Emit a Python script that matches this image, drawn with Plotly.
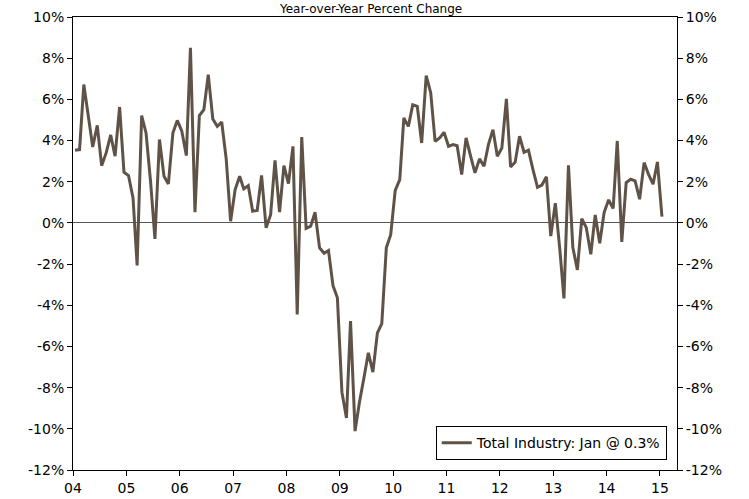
import pandas as pd
import plotly.graph_objects as go

# monthly YoY % change, Jan 2004 .. Jan 2015 (plotted mid-month)
MONTHS = pd.date_range("2004-01-01", periods=133, freq="MS") + pd.Timedelta(days=14)
YOY_PCT = [
    3.53, 3.56, 6.72, 5.1, 3.69, 4.74, 2.78, 3.4, 4.27, 3.24, 5.63, 2.46,
    2.3, 1.21, -2.07, 5.21, 4.37, 2.0, -0.78, 4.05, 2.27, 1.89, 4.37, 4.98,
    4.45, 3.27, 8.5, 0.52, 5.21, 5.5, 7.2, 5.05, 4.69, 4.9, 3.1, 0.08,
    1.62, 2.27, 1.65, 1.81, 0.57, 0.61, 2.31, -0.24, 0.4, 3.04, 0.52, 2.78,
    1.91, 3.72, -4.45, 4.17, -0.27, -0.16, 0.52, -1.21, -1.47, -1.34, -3.05, -3.64,
    -8.22, -9.47, -4.77, -10.11, -8.71, -7.52, -6.31, -7.25, -5.34, -4.89, -1.21, -0.57,
    1.58, 2.1, 5.1, 4.69, 5.74, 5.66, 3.88, 7.15, 6.31, 3.96, 4.13, 4.4,
    3.72, 3.8, 3.75, 2.35, 4.13, 3.24, 2.43, 3.11, 2.75, 3.8, 4.53, 3.24,
    3.64, 6.02, 2.72, 2.95, 4.21, 3.43, 3.53, 2.59, 1.73, 1.84, 2.24, -0.64,
    0.96, -1.3, -3.67, 2.8, -1.2, -2.28, 0.21, -0.23, -1.52, 0.39, -0.99, 0.5,
    1.12, 0.7, 3.98, -0.92, 1.96, 2.12, 2.04, 1.15, 2.93, 2.36, 1.88, 2.96,
    0.3,
]
SERIES_NAME = "Total Industry: Jan @ 0.3%"
TITLE = "Year-over-Year Percent Change"
Y_TICKS = list(range(-12, 11, 2))
Y_TICK_TEXT = [f"{v}%" for v in Y_TICKS]

FONT = dict(family="DejaVu Sans, Verdana, sans-serif", size=14, color="#000000")
LINE_COLOR = "#5f5347"

fig = go.Figure()
fig.add_trace(go.Scatter(
    x=MONTHS, y=YOY_PCT, mode="lines", name=SERIES_NAME,
    line=dict(color=LINE_COLOR, width=3),
))
# invisible copy so the right-hand axis gets drawn
fig.add_trace(go.Scatter(
    x=MONTHS, y=YOY_PCT, mode="lines", yaxis="y2", showlegend=False,
    line=dict(color="rgba(0,0,0,0)", width=0), hoverinfo="skip",
))

yaxis_common = dict(
    range=[-12, 10], tickvals=Y_TICKS, ticktext=Y_TICK_TEXT,
    showgrid=False, showline=True, linecolor="#000000", linewidth=1,
    ticks="outside", ticklen=5, tickcolor="#000000", tickfont=FONT,
    automargin=False,
)

fig.update_layout(
    width=749, height=499,
    margin=dict(l=73, r=72, t=17, b=29),
    paper_bgcolor="white", plot_bgcolor="white",
    font=FONT,
    showlegend=True,
    legend=dict(
        x=0.983, y=0.022, xanchor="right", yanchor="bottom",
        bgcolor="white", bordercolor="#000000", borderwidth=1,
        font=FONT, itemwidth=30,
    ),
    xaxis=dict(
        type="date", range=["2004-01-01", "2015-04-28"],
        tick0="2004-01-01", dtick="M12", tickformat="%y",
        showgrid=False, showline=True, linecolor="#000000", linewidth=1,
        mirror=True, ticks="outside", ticklen=5, tickcolor="#000000",
        tickfont=FONT, automargin=False,
    ),
    yaxis=dict(
        **yaxis_common,
        zeroline=True, zerolinecolor="#555555", zerolinewidth=1.2,
    ),
    yaxis2=dict(
        **yaxis_common, overlaying="y", side="right", zeroline=False,
    ),
    annotations=[dict(
        text=TITLE, xref="paper", yref="paper", x=0.492, y=1,
        xanchor="center", yanchor="bottom", yshift=-1, showarrow=False,
        font=dict(family=FONT["family"], size=12, color="#000000"),
    )],
)

# drop the browser's default body margin so the figure sits at the page corner
fig.write_html(
    "out.html",
    config={"displayModeBar": False},
    post_script="document.body.style.margin='0';",
)
